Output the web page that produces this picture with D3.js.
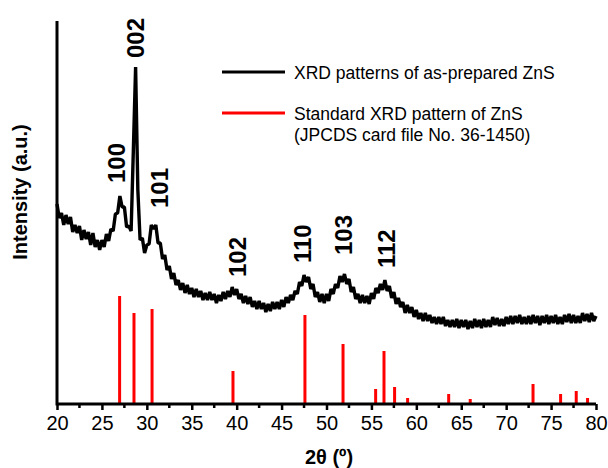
<!DOCTYPE html>
<html>
<head>
<meta charset="utf-8">
<script src="https://cdn.jsdelivr.net/npm/d3@7"></script>
<style>
  body { margin: 0; background: #fff; }
  svg { display: block; font-family: "Liberation Sans", Arial, sans-serif; }
</style>
</head>
<body>
<svg class="xrd" width="608" height="468"></svg>
<script>
// measured pattern, 20-80 deg in 0.25 deg steps (intensity, a.u.)
let thetaStart = 20, thetaStep = 0.25;
let measured = [
  200,186,191,179,189,180,187,172,179,171,   // 20.00
  178,164,174,165,172,159,171,157,164,154,   // 22.50
  164,157,170,163,175,173,190,191,208,197,   // 25.00
  197,177,178,173,254,337,214,164,166,151,   // 27.50
  159,160,179,175,179,161,161,145,149,134,   // 30.00
  138,125,131,119,124,114,121,111,119,110,   // 32.50
  116,107,115,107,113,104,111,104,112,104,   // 35.00
  110,101,109,103,112,105,113,107,117,109,   // 37.50
  115,105,110,101,108,100,107,97,103,95,     // 40.00
  103,95,101,92,100,93,102,95,102,95,        // 42.50
  104,97,107,101,109,104,113,110,122,118,    // 45.00
  129,122,127,115,120,107,112,102,110,101,   // 47.50
  110,103,115,110,120,116,128,122,130,120,   // 50.00
  125,112,117,105,110,101,109,101,108,100,   // 52.50
  111,105,116,111,120,114,124,113,118,106,   // 55.00
  112,100,106,97,102,91,99,91,97,87,         // 57.50
  94,85,91,83,91,83,89,81,87,80,             // 60.00
  87,80,87,78,84,77,84,77,85,76,             // 62.50
  84,77,84,75,83,76,85,77,84,76,             // 65.00
  85,77,84,77,87,79,86,78,85,78,             // 67.50
  87,80,88,80,88,81,89,80,87,80,             // 70.00
  88,80,89,81,88,79,88,81,89,80,             // 72.50
  88,81,89,80,87,80,89,82,90,81,             // 75.00
  89,81,88,81,91,83,90,82,91,83,             // 77.50
  88                                         // 80.00
];

// standard pattern (JCPDS 36-1450)
let stdAngles = [26.97, 28.57, 30.58, 39.59, 47.6, 51.84, 55.47, 56.4, 57.58, 59.03, 63.6, 66.0, 72.99, 76.06, 77.8, 79.06];
let stdIntensity = [108, 91, 95, 33, 89, 60, 15, 53, 17, 6, 10, 5, 20, 10, 13, 6];

// hkl annotations
let hklLabels = ["100", "002", "101", "102", "110", "103", "112"];
let hklAngles = [26.66, 28.72, 31.39, 40.13, 47.31, 51.87, 56.66];
let hklLevels = [221, 346, 196, 127, 141, 149, 136];

let xTicks = [20, 25, 30, 35, 40, 45, 50, 55, 60, 65, 70, 75, 80];
let xMinorTicks = [22.5, 27.5, 32.5, 37.5, 42.5, 47.5, 52.5, 57.5, 62.5, 67.5, 72.5, 77.5];

let legendItems = [
  { color: "#000000", lines: ["XRD patterns of as-prepared ZnS"] },
  { color: "#ff0000", lines: ["Standard XRD pattern of ZnS", "(JPCDS card file No. 36-1450)"] }
];

let svg = d3.select(".xrd");

let x = d3.scaleLinear().domain([20, 80]).range([57, 596]);
let y = d3.scaleLinear().domain([0, 383]).range([404, 21]);

//red sticks
svg.selectAll(".stick")
  .data(stdAngles)
  .enter().append("line")
  .attr("class", "stick")
  .attr("x1", d => x(d)).attr("x2", d => x(d))
  .attr("y1", y(0))
  .attr("y2", (d, i) => y(stdIntensity[i]))
  .style("stroke", "#ff0000")
  .style("stroke-width", 3);

//measured line
let line = d3.line()
  .x((d, i) => x(thetaStart + i * thetaStep))
  .y(d => y(d));

svg.append("path")
  .datum(measured)
  .attr("d", line)
  .style("fill", "none")
  .style("stroke", "#000")
  .style("stroke-width", 3.4)
  .style("stroke-linejoin", "bevel");

// x axis
let xAxis = svg.append("g")
  .attr("transform", translate(0, y(0)))
  .call(d3.axisBottom(x).tickValues(xTicks).tickSize(6).tickPadding(6).tickFormat(d3.format("d")));
xAxis.select(".domain").style("stroke-width", 3).attr("d", "M" + x(20) + ",0H" + x(80));
xAxis.selectAll(".tick line").style("stroke-width", 2.5);
xAxis.selectAll(".tick text")
  .style("font-size", "20px")
  .style("font-family", "'Liberation Sans', Arial, sans-serif")
  .style("fill", "#000");

svg.append("g")
  .attr("transform", translate(0, y(0)))
  .selectAll("line")
  .data(xMinorTicks)
  .enter().append("line")
  .attr("x1", d => x(d)).attr("x2", d => x(d))
  .attr("y1", 0).attr("y2", 4)
  .style("stroke", "#000")
  .style("stroke-width", 2.5);

// y axis (no ticks)
svg.append("line")
  .attr("x1", x(20)).attr("x2", x(20))
  .attr("y1", y(383)).attr("y2", y(0) + 1.5)
  .style("stroke", "#000")
  .style("stroke-width", 3);

// axis titles
svg.append("text")
  .attr("transform", translate(329, 464))
  .attr("text-anchor", "middle")
  .style("font-size", "20px")
  .style("font-weight", "bold")
  .text("2θ (º)");

svg.append("text")
  .attr("transform", translate(27, 192) + " rotate(-90)")
  .attr("text-anchor", "middle")
  .style("font-size", "20px")
  .style("font-weight", "bold")
  .text("Intensity (a.u.)");

// hkl labels
svg.selectAll(".hkl")
  .data(hklLabels)
  .enter().append("text")
  .attr("class", "hkl")
  .attr("transform", (d, i) => translate(x(hklAngles[i]), y(hklLevels[i])) + " rotate(-90)")
  .attr("dy", "0.36em")
  .style("font-size", "24px")
  .style("font-weight", "bold")
  .text(d => d);

// legend
let legendTop = [72, 113];
legendItems.forEach(function(item, i) {
  svg.append("line")
    .attr("x1", 222).attr("x2", 285)
    .attr("y1", legendTop[i]).attr("y2", legendTop[i])
    .style("stroke", item.color)
    .style("stroke-width", 3);
  item.lines.forEach(function(t, j) {
    svg.append("text")
      .attr("x", 294)
      .attr("y", legendTop[i] + 6.5 + j * 21)
      .style("font-size", "17.5px")
      .text(t);
  });
});

function translate(x, y) {
  return "translate(" + x + "," + y + ")";
}
</script>
</body>
</html>
